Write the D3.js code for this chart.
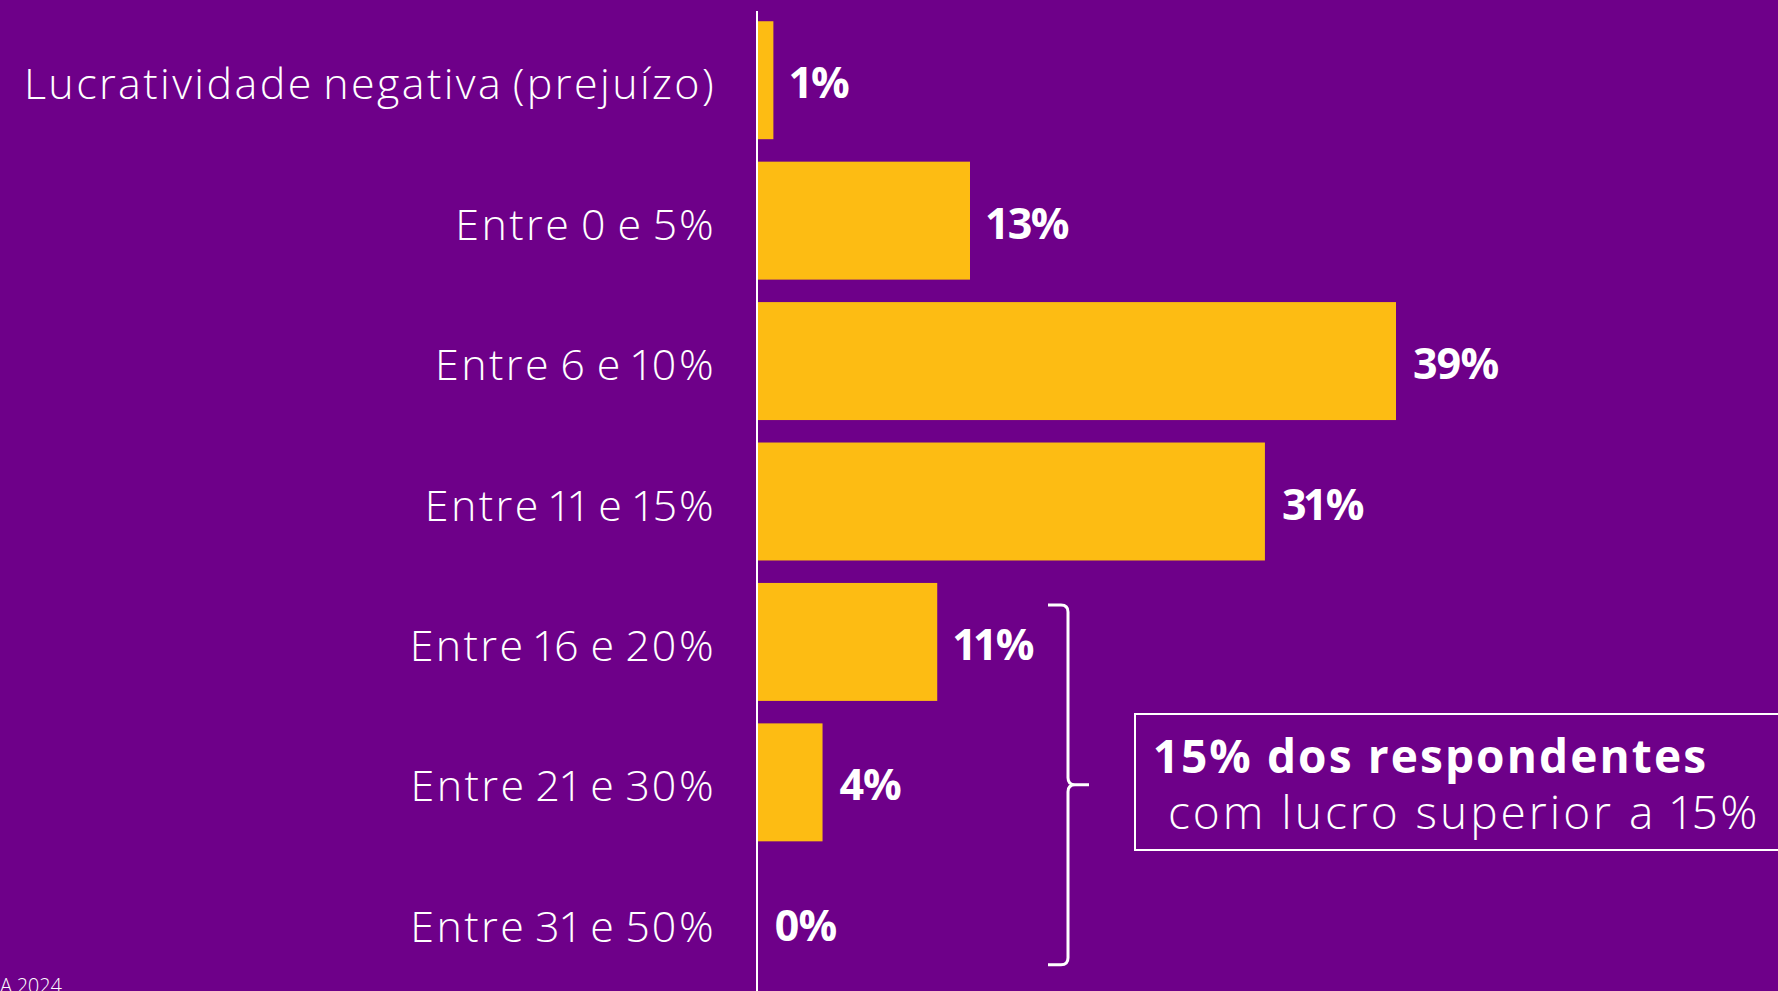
<!DOCTYPE html>
<html>
<head>
<meta charset="utf-8">
<script src="https://cdn.jsdelivr.net/npm/d3@7"></script>
<style>
  html, body { margin: 0; padding: 0; background: #6E0089; overflow: hidden; }
  text { font-variant-numeric: proportional-nums; font-feature-settings: "pnum" 1; }
</style>
</head>
<body>
<div id="chart"></div>
<script>
// dados
const categorias = [
  'Lucratividade negativa (prejuízo)',
  'Entre 0 e 5%',
  'Entre 6 e 10%',
  'Entre 11 e 15%',
  'Entre 16 e 20%',
  'Entre 21 e 30%',
  'Entre 31 e 50%'
];
const valores = [1, 13, 39, 31, 11, 4, 0];
const destaque1 = '15% dos respondentes';
const destaque2 = ' com lucro superior a 15%';
const rodape = 'A 2024';

const width = 1778;
const height = 991;
const roxo = '#6E0089';
const amarelo = '#FDBC13';

const svg = d3.select('#chart')
  .append('svg')
  .attr('width', width)
  .attr('height', height)
  .style('display', 'block');

svg.append('rect')
  .attr('width', width)
  .attr('height', height)
  .attr('fill', roxo);

// escalas
const x = d3.scaleLinear()
  .domain([0, 39])
  .range([757, 1396]);

const y = d3.scaleBand()
  .domain(categorias)
  .range([10, 993])
  .paddingInner(0.16)
  .paddingOuter(0.08);

// barras
svg.append('g')
  .selectAll('rect')
  .data(valores)
  .join('rect')
  .attr('x', x(0))
  .attr('y', (d, i) => y(categorias[i]))
  .attr('width', d => x(d) - x(0))
  .attr('height', y.bandwidth())
  .attr('fill', amarelo);

// eixo vertical (linha branca)
svg.append('line')
  .attr('x1', x(0)).attr('x2', x(0))
  .attr('y1', 11).attr('y2', height)
  .attr('stroke', '#fff')
  .attr('stroke-width', 2);

// rótulos das categorias
svg.append('g')
  .selectAll('text')
  .data(categorias)
  .join('text')
  .attr('x', 716)
  .attr('y', d => y(d) + y.bandwidth() / 2 + 19)
  .attr('text-anchor', 'end')
  .attr('fill', '#fff')
  .attr('font-family', '"Open Sans", sans-serif')
  .attr('font-weight', 300)
  .attr('font-size', '43px')
  .attr('letter-spacing', '2.4px')
  .attr('word-spacing', '-4px')
  .text(d => d);

// valores
svg.append('g')
  .selectAll('text')
  .data(valores)
  .join('text')
  .attr('x', d => x(d) + 17)
  .attr('y', (d, i) => y(categorias[i]) + y.bandwidth() / 2 + 18)
  .attr('fill', '#fff')
  .attr('font-family', '"Open Sans", sans-serif')
  .attr('font-weight', 700)
  .attr('font-size', '43px')
  .attr('letter-spacing', '-1.5px')
  .text(d => d + '%');

// chave agrupando as três últimas faixas
const yTopo = y(categorias[4]) + 22;
const yBase = y(categorias[6]) + y.bandwidth() - 17;
const yMeio = (yTopo + yBase) / 2;
const bx = 1068, r = 7;
const p = d3.path();
p.moveTo(1048, yTopo);
p.lineTo(bx - r, yTopo);
p.quadraticCurveTo(bx, yTopo, bx, yTopo + r);
p.lineTo(bx, yMeio - r);
p.quadraticCurveTo(bx, yMeio, bx + r, yMeio);
p.lineTo(1089, yMeio);
p.moveTo(bx + r, yMeio);
p.quadraticCurveTo(bx, yMeio, bx, yMeio + r);
p.lineTo(bx, yBase - r);
p.quadraticCurveTo(bx, yBase, bx - r, yBase);
p.lineTo(1048, yBase);

svg.append('path')
  .attr('d', p.toString())
  .attr('fill', 'none')
  .attr('stroke', '#fff')
  .attr('stroke-width', 3);

// caixa de destaque
svg.append('rect')
  .attr('x', 1135)
  .attr('y', 714)
  .attr('width', 700)
  .attr('height', 136)
  .attr('fill', 'none')
  .attr('stroke', '#fff')
  .attr('stroke-width', 2);

svg.append('text')
  .attr('x', 1155)
  .attr('y', 773)
  .attr('fill', '#fff')
  .attr('font-family', '"Open Sans", sans-serif')
  .attr('font-weight', 700)
  .attr('font-size', '46px')
  .attr('letter-spacing', '2.1px')
  .text(destaque1);

svg.append('text')
  .attr('x', 1153)
  .attr('y', 829)
  .attr('fill', '#fff')
  .attr('font-family', '"Open Sans", sans-serif')
  .attr('font-weight', 300)
  .attr('font-size', '46px')
  .attr('letter-spacing', '3px')
  .style('white-space', 'pre')
  .text(destaque2);

// rodapé cortado
svg.append('text')
  .attr('x', 62)
  .attr('y', 993)
  .attr('text-anchor', 'end')
  .attr('fill', '#fff')
  .attr('font-family', '"Open Sans", sans-serif')
  .attr('font-weight', 300)
  .attr('font-size', '20px')
  .text(rodape);
</script>
</body>
</html>
